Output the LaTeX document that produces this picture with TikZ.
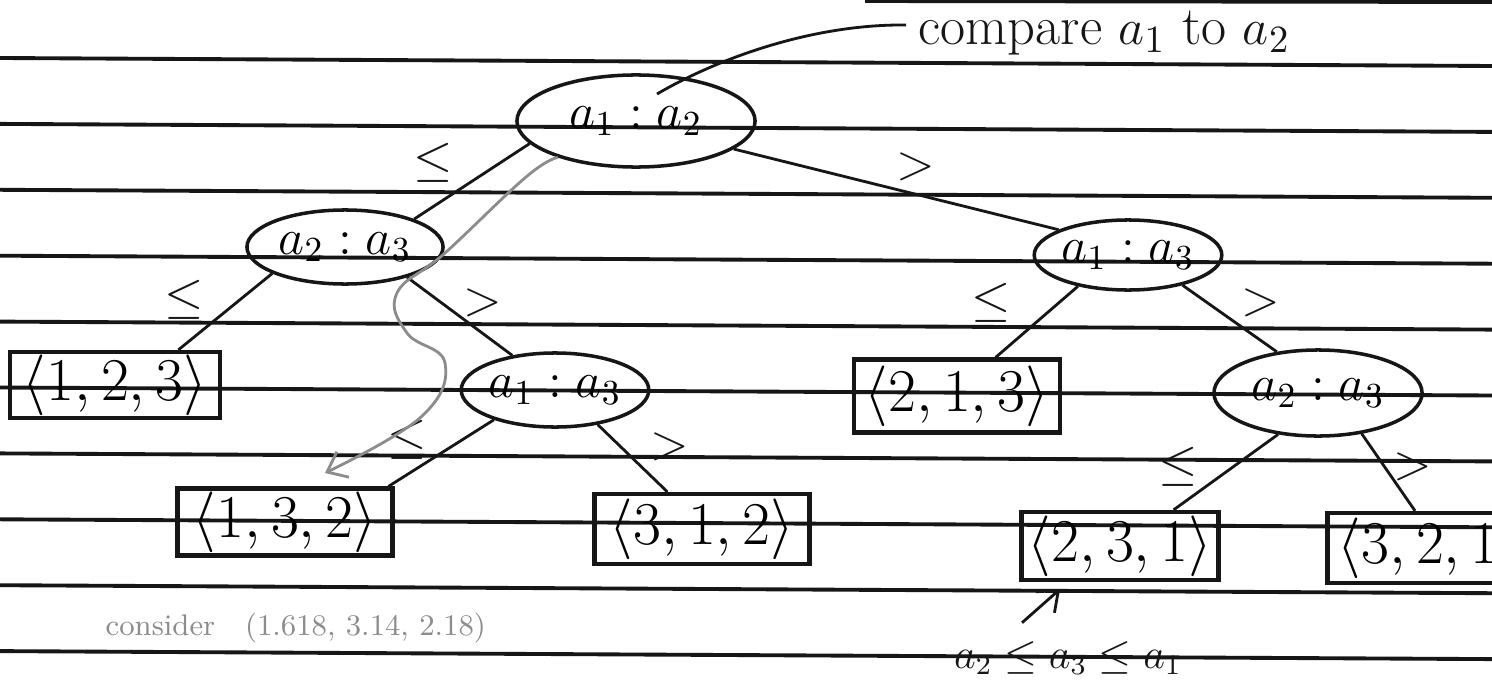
\documentclass[tikz,border=0pt]{standalone}
\usepackage{xcolor}
\definecolor{inkdark}{HTML}{161616}
\definecolor{pencil}{HTML}{8C8C8C}
\usepackage{tikz}
\usetikzlibrary{shapes.geometric, arrows.meta, calc}
\newcommand{\perm}[3]{$\langle #1,#2,#3\rangle$}
\newcommand{\cmpr}[2]{$a_{#1} : a_{#2}$}
\tikzset{
  ruled/.style={inkdark, line width=1.1pt},
  testnode/.style={ellipse, draw=inkdark, line width=1pt, inner sep=0pt,
                   font=\fontsize{14}{16}\selectfont},
  leafbox/.style={rectangle, draw=inkdark, line width=1.2pt, inner sep=0pt,
                  font=\fontsize{17}{20}\selectfont},
  branch/.style={inkdark, line width=0.8pt},
  cmplabel/.style={font=\fontsize{14}{16}\selectfont, text=inkdark, inner sep=0pt},
  hint/.style={pencil, line width=0.8pt, -{Straight Barb[length=5pt, width=8pt]}},
}

\begin{document}
\begin{tikzpicture}[x=0.01cm, y=-0.01cm]
  \fill[white] (0,0) rectangle (1492,682);
  \useasboundingbox (0,0) rectangle (1492,682);

  % ruled paper
  \foreach \k in {0,...,9} {
    \draw[ruled] (0,58+65.9*\k) -- (1492,66+65.9*\k);
  }
  \draw[ruled] (865,1) -- (1492,2);

  % comparisons
  \node[testnode, minimum width=2.38cm, minimum height=0.92cm] (root) at (636,121) {\cmpr{1}{2}};
  \node[testnode, minimum width=1.96cm, minimum height=0.74cm] (lft) at (345,247) {\cmpr{2}{3}};
  \node[testnode, minimum width=1.70cm, minimum height=0.70cm] (rgt) at (1128,255) {\cmpr{1}{3}};
  \node[testnode, minimum width=1.82cm, minimum height=0.74cm] (mid) at (555,390) {\cmpr{1}{3}};
  \node[testnode, minimum width=2.08cm, minimum height=0.86cm] (rlo) at (1318,393) {\cmpr{2}{3}};

  % leaves
  \node[leafbox, minimum width=2.10cm, minimum height=0.66cm] (p123) at (115,385) {\perm123};
  \node[leafbox, minimum width=2.15cm, minimum height=0.67cm] (p132) at (285,522) {\perm132};
  \node[leafbox, minimum width=2.15cm, minimum height=0.70cm] (p312) at (702,529) {\perm312};
  \node[leafbox, minimum width=2.06cm, minimum height=0.73cm] (p213) at (957,396) {\perm213};
  \node[leafbox, minimum width=1.97cm, minimum height=0.68cm] (p231) at (1120,546) {\perm231};
  \node[leafbox, minimum width=2.05cm, minimum height=0.70cm] (p321) at (1430,548) {\perm321};

  % branches
  \draw[branch] (root.192) -- (lft.22);
  \draw[branch] (root.344) -- (rgt.160);
  \draw[branch] (lft.200) -- (p123.29);
  \draw[branch] (lft.334) -- (mid.141);
  \draw[branch] (mid.206) -- (p132.19);
  \draw[branch] (mid.321) -- (p312.133);
  \draw[branch] (rgt.212) -- (p213.45);
  \draw[branch] (rgt.331) -- (rlo.135);
  \draw[branch] (rlo.226) -- (p231.34);
  \draw[branch] (rlo.317) -- (p321.112);

  \node[cmplabel] (le1) at (433,163)  {$\leq$};
  \node[cmplabel] (gt1) at (916,167)  {$>$};
  \node[cmplabel] (le2) at (184,300)  {$\leq$};
  \node[cmplabel] (gt2) at (483,303)  {$>$};
  \node[cmplabel] (le3) at (407,440)  {$\leq$};
  \node[cmplabel] (gt3) at (670,447)  {$>$};
  \node[cmplabel] (le4) at (991,303)  {$\leq$};
  \node[cmplabel] (gt4) at (1261,303) {$>$};
  \node[cmplabel] (le5) at (1178,467) {$\leq$};
  \node[cmplabel] (gt5) at (1413,467) {$>$};

  % notes
  \node[font=\fontsize{15.5}{18}\selectfont, text=inkdark, anchor=base west, inner sep=0pt]
    (note) at (918,45) {compare $a_1$ to $a_2$};
  \coordinate (notefoot) at (657,94);
  \draw[branch] ([shift={(-12,-20)}]note.base west) .. controls (810,24) and (715,60) .. (notefoot);

  \node[font=\fontsize{12}{14}\selectfont, text=inkdark, inner sep=0pt] (ord) at (1068,658)
    {$a_2 \leq a_3 \leq a_1$};
  \draw[branch, -{Straight Barb[length=5pt, width=8pt]}]
    ([shift={(-46,-18)}]ord.north) -- ([shift={(-60,7)}]p231.south);

  \coordinate (hintend) at (325,473);
  \draw[hint] plot[smooth, tension=0.7] coordinates
    {(root.205) (526,177) (445,253) (397,293) (407,333) (445,363) (421,417) (hintend)};
  \node[font=\fontsize{8.5}{10}\selectfont, text=pencil, anchor=west, inner sep=0pt]
    (hint) at (105,628) {consider\quad(1.618, 3.14, 2.18)};
\end{tikzpicture}
\end{document}
